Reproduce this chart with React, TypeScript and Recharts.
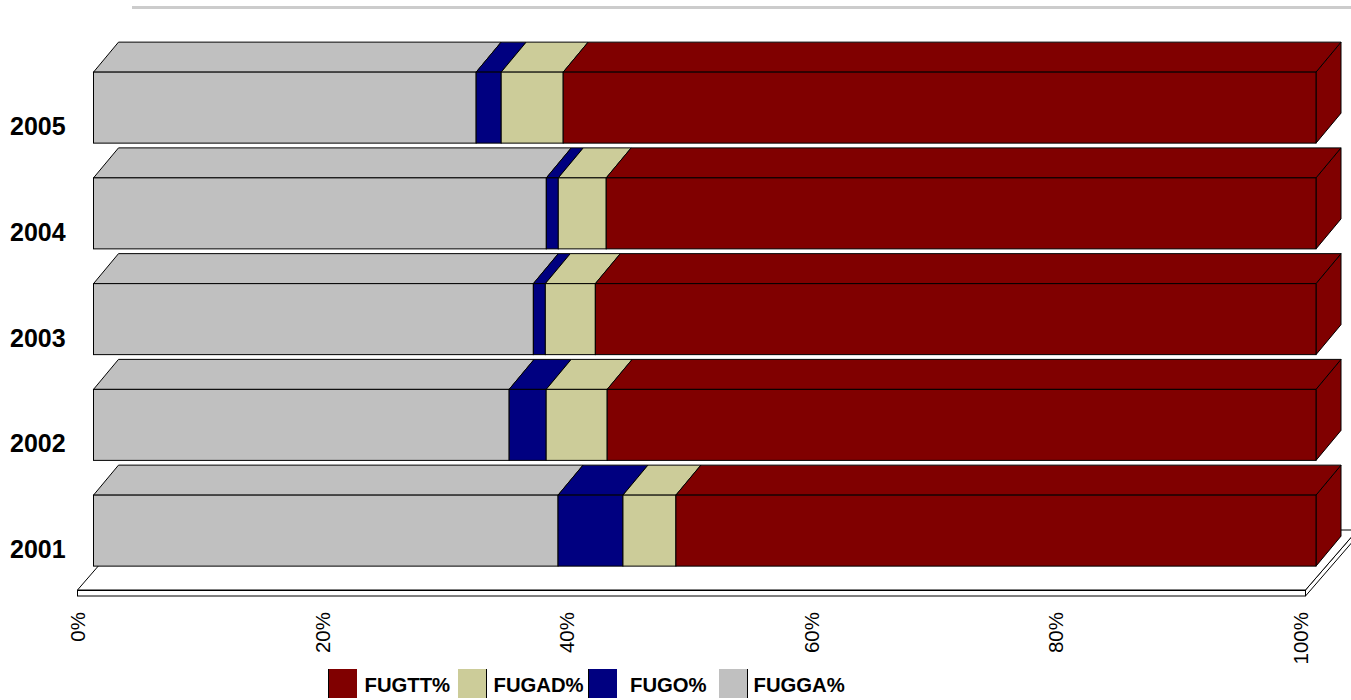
import React from "react";
import { BarChart, Bar, XAxis, YAxis, Legend, Customized } from "recharts";

const years = ["2005", "2004", "2003", "2002", "2001"];
const fugga = [31.3, 37.04, 35.98, 34.0, 38.0];
const fugo = [2.05, 0.98, 0.98, 3.03, 5.31];
const fugad = [5.07, 3.92, 4.09, 4.99, 4.33];
const fugtt = [61.58, 58.06, 58.95, 57.98, 52.36];
const percentTicks = [0, 20, 40, 60, 80, 100];

const data = years.map((year, i) => ({
  year,
  "FUGGA%": fugga[i],
  "FUGO%": fugo[i],
  "FUGAD%": fugad[i],
  "FUGTT%": fugtt[i],
}));

const MAROON = "#800000";
const KHAKI = "#CCCC99";
const NAVY = "#000080";
const GRAY = "#C0C0C0";
const FONT = "'Liberation Sans', Arial, sans-serif";
const DX = 25;
const DY = 30;

const legendItems = [
  { label: "FUGTT%", color: MAROON, box: 328, text: 364.5, edge: "left" },
  { label: "FUGAD%", color: KHAKI, box: 458, text: 493.5, edge: "right" },
  { label: "FUGO%", color: NAVY, box: 588, text: 630, edge: "left" },
  { label: "FUGGA%", color: GRAY, box: 718.5, text: 753.5, edge: "right" },
];

const Box3D = (props: any) => {
  const { x, y, width: w, height: h, fill, last } = props;
  return (
    <g stroke="#000" strokeWidth={1} fill={fill}>
      {last && (
        <polygon
          points={`${x + w},${y} ${x + w + DX},${y - DY} ${x + w + DX},${y + h - DY} ${x + w},${y + h}`}
        />
      )}
      <polygon
        points={`${x},${y} ${x + DX},${y - DY} ${x + w + DX},${y - DY} ${x + w},${y}`}
      />
      <rect x={x} y={y} width={w} height={h} />
    </g>
  );
};

const Backdrop = () => (
  <g>
    <line x1={132} x2={1351} y1={7.5} y2={7.5} stroke="#CCCCCC" strokeWidth={3} />
    <polygon
      points="1305.5,590 1357.5,530 1357.5,536 1305.5,596"
      fill="#fff"
      stroke="#000"
      strokeWidth={1}
    />
    <polygon
      points="77.5,590 129.5,530 1357.5,530 1305.5,590"
      fill="#fff"
      stroke="#000"
      strokeWidth={1}
    />
    <rect x={77.5} y={590.5} width={1228} height={5.5} fill="#fff" stroke="#000" strokeWidth={1} />
  </g>
);

const XTick = ({ x, payload }: any) => (
  <text
    x={x - 8.5}
    y={612}
    transform={`rotate(-90 ${x - 8.5} 612)`}
    textAnchor="end"
    fontFamily={FONT}
    fontSize={20.5}
    fill="#000"
  >
    {payload.value}%
  </text>
);

const YTick = ({ y, payload }: any) => (
  <text x={10} y={y + 27} fontFamily={FONT} fontSize={25} fontWeight="bold" fill="#000">
    {payload.value}
  </text>
);

const LegendContent = () => (
  <div style={{ position: "relative", width: 1351, height: 700 }}>
    {legendItems.map((it) => (
      <React.Fragment key={it.label}>
        <div
          style={{
            position: "absolute",
            left: it.box,
            top: 669,
            width: 28,
            height: 29,
            background: it.color,
            boxSizing: "content-box",
            borderLeft: it.edge === "left" ? "1px solid #000" : "none",
            borderRight: it.edge === "right" ? "1px solid #000" : "none",
          }}
        />
        <div
          style={{
            position: "absolute",
            left: it.text,
            top: 673,
            fontFamily: FONT,
            fontSize: 20.3,
            fontWeight: "bold",
            lineHeight: "24px",
            color: "#000",
            whiteSpace: "nowrap",
          }}
        >
          {it.label}
        </div>
      </React.Fragment>
    ))}
  </div>
);

export default function App() {
  return (
    <div style={{ position: "absolute", left: 0, top: 0, width: 1351, height: 700, overflow: "hidden" }}>
      <BarChart
        width={1351}
        height={700}
        data={data}
        layout="vertical"
        barCategoryGap={0}
        barSize={71}
        margin={{ top: 55.125, right: 35, bottom: 0, left: 0 }}
        style={{ fontFamily: FONT }}
      >
        <Customized component={Backdrop} />
        <XAxis
          type="number"
          domain={[0, 100]}
          ticks={percentTicks}
          height={116.125}
          axisLine={false}
          tickLine={false}
          tick={<XTick />}
          interval={0}
        />
        <YAxis
          type="category"
          dataKey="year"
          width={93.5}
          axisLine={false}
          tickLine={false}
          tick={<YTick />}
          interval={0}
        />
        <Legend
          layout="horizontal"
          verticalAlign="middle"
          align="center"
          content={<LegendContent />}
          wrapperStyle={{ position: "absolute", left: 0, top: 0, width: 1351, height: 700, pointerEvents: "none" }}
        />
        <Bar dataKey="FUGGA%" stackId="a" fill={GRAY} isAnimationActive={false} shape={<Box3D />} />
        <Bar dataKey="FUGO%" stackId="a" fill={NAVY} isAnimationActive={false} shape={<Box3D />} />
        <Bar dataKey="FUGAD%" stackId="a" fill={KHAKI} isAnimationActive={false} shape={<Box3D />} />
        <Bar dataKey="FUGTT%" stackId="a" fill={MAROON} isAnimationActive={false} shape={<Box3D last />} />
      </BarChart>
    </div>
  );
}
